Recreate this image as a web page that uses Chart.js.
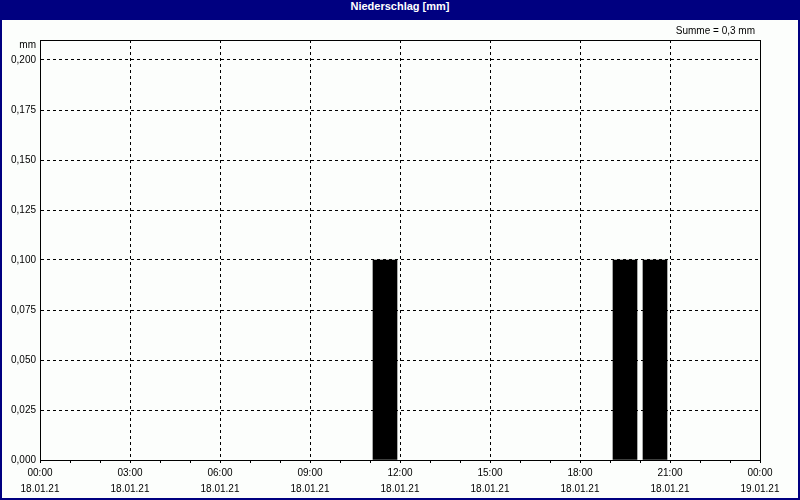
<!DOCTYPE html>
<html>
<head>
<meta charset="utf-8">
<script src="https://cdn.jsdelivr.net/npm/chart.js@4/dist/chart.umd.min.js"></script>
<style>
  body { margin: 0; }
  #frame { position: relative; width: 800px; height: 500px; background: #000080; }
  #titel { position: absolute; left: 0; top: 0; width: 800px; height: 20px; line-height: 19px;
           text-align: center; color: #fff; font: bold 11px "Liberation Sans", sans-serif; }
  #grafik { position: absolute; left: 2px; top: 20px; background: #fcfefc; }
</style>
</head>
<body>
<div id="frame">
  <div id="titel">Niederschlag [mm]</div>
  <canvas id="grafik" width="796" height="478"></canvas>
</div>
<script>
// stundenwerte 18.01.21, bar in der mitte der stunde
var stunden = [0.5, 1.5, 2.5, 3.5, 4.5, 5.5, 6.5, 7.5, 8.5, 9.5, 10.5, 11.5,
               12.5, 13.5, 14.5, 15.5, 16.5, 17.5, 18.5, 19.5, 20.5, 21.5, 22.5, 23.5];
var niederschlag = [0, 0, 0, 0, 0, 0, 0, 0, 0, 0, 0, 0.1,
                    0, 0, 0, 0, 0, 0, 0, 0.1, 0.1, 0, 0, 0];
var zeitLabels = ['00:00', '03:00', '06:00', '09:00', '12:00', '15:00', '18:00', '21:00', '00:00'];
var datumLabels = ['18.01.21', '18.01.21', '18.01.21', '18.01.21', '18.01.21',
                   '18.01.21', '18.01.21', '18.01.21', '19.01.21'];
var yTicks = [0, 0.025, 0.05, 0.075, 0.1, 0.125, 0.15, 0.175, 0.2];
var summeText = 'Summe = 0,3 mm';
var einheit = 'mm';

Chart.defaults.font.family = '"Liberation Sans", sans-serif';
Chart.defaults.font.size = 10;
Chart.defaults.color = '#000';

var punkte = [];
for (var i = 0; i < stunden.length; i++) {
	punkte.push({ x: stunden[i], y: niederschlag[i] });
}

var rahmen = {
	id: 'rahmen',
	afterDraw: function(chart) {
		var c = chart.ctx, a = chart.chartArea;
		c.save();
		c.strokeStyle = '#000';
		c.lineWidth = 1;
		c.setLineDash([]);
		c.strokeRect(Math.round(a.left) + 0.5, Math.round(a.top) + 0.5,
			Math.round(a.right - a.left), Math.round(a.bottom - a.top));
		c.fillStyle = '#000';
		c.font = '10px "Liberation Sans", sans-serif';
		c.textAlign = 'right';
		c.textBaseline = 'middle';
		c.fillText(summeText, 753, 11);
		c.fillText(einheit, 34, 25);
		c.restore();
	}
};

var grafik = new Chart(document.getElementById('grafik'), {
	type: 'bar',
	data: {
		datasets: [{
			data: punkte,
			backgroundColor: function(ctx) {
				return ctx.raw && ctx.raw.y > 0 ? '#000' : 'rgba(0,0,0,0)';
			},
			borderWidth: 0,
			barThickness: 24
		}]
	},
	options: {
		responsive: false,
		animation: false,
		layout: { padding: { left: 2, right: 38, top: 20, bottom: 0 } },
		plugins: { legend: { display: false }, tooltip: { enabled: false } },
		scales: {
			x: {
				type: 'linear',
				min: 0,
				max: 24,
				offset: false,
				afterBuildTicks: function(axis) {
					var t = [];
					for (var h = 0; h <= 24; h++) t.push({ value: h });
					axis.ticks = t;
				},
				afterFit: function(axis) { axis.height = 38; },
				border: { display: true, color: '#000', dash: [3, 3] },
				grid: {
					offset: false,
					color: function(ctx) {
						return ctx.tick && ctx.tick.value % 3 === 0 ? '#000' : 'rgba(0,0,0,0)';
					},
					tickColor: '#000',
					tickLength: 3,
					tickBorderDash: [1, 0]
				},
				ticks: {
					autoSkip: false,
					maxRotation: 0,
					padding: 2,
					font: { lineHeight: 1.6 },
					callback: function(v) {
						if (v % 3 !== 0) return '';
						var k = v / 3;
						return [zeitLabels[k], datumLabels[k]];
					}
				}
			},
			y: {
				min: 0,
				max: 0.21,
				afterBuildTicks: function(axis) {
					axis.ticks = yTicks.map(function(v) { return { value: v }; });
				},
				afterFit: function(axis) { axis.width = 36; },
				border: { display: true, color: '#000', dash: [3, 3] },
				grid: {
					color: '#000',
					drawTicks: false
				},
				ticks: {
					padding: 4,
					callback: function(v) { return v.toFixed(3).replace('.', ','); }
				}
			}
		}
	},
	plugins: [rahmen]
});
</script>
</body>
</html>
